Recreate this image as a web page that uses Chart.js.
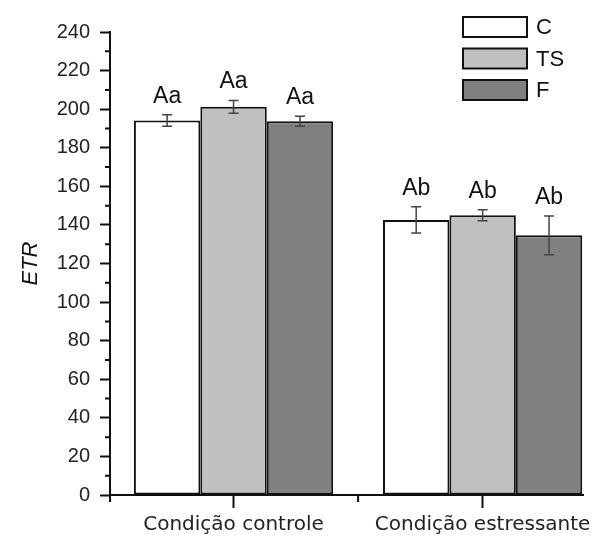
<!DOCTYPE html>
<html>
<head>
<meta charset="utf-8">
<script src="https://cdn.jsdelivr.net/npm/chart.js@4/dist/chart.umd.min.js"></script>
<style>
  html, body { margin: 0; padding: 0; background: #fff; }
  #wrap { width: 599px; height: 536px; }
</style>
</head>
<body>
<div id="wrap"><canvas id="etr-chart" width="599" height="536"></canvas></div>
<script>
// values
const categories = ['Condição controle', 'Condição estressante'];
const seriesNames = ['C', 'TS', 'F'];
const cValues = [194.1, 142.6];
const tsValues = [201.2, 145.0];
const fValues = [193.7, 134.6];
const cErr = [3.0, 6.8];
const tsErr = [3.3, 2.8];
const fErr = [2.6, 10.0];
const cLetters = ['Aa', 'Ab'];
const tsLetters = ['Aa', 'Ab'];
const fLetters = ['Aa', 'Ab'];
const yTicks = [0, 20, 40, 60, 80, 100, 120, 140, 160, 180, 200, 220, 240];

const fills = ['#ffffff', '#c0c0c0', '#808080'];
const allValues = [cValues, tsValues, fValues];
const allErr = [cErr, tsErr, fErr];
const allLetters = [cLetters, tsLetters, fLetters];

const sans = '"Liberation Sans", Arial, sans-serif';
Chart.defaults.font.family = sans;
Chart.defaults.color = '#222';

const datasets = seriesNames.map(function(name, i) {
    return {
        label: name,
        data: allValues[i].map(function(v, j) { return { x: j, y: v }; }),
        err: allErr[i],
        letters: allLetters[i],
        backgroundColor: fills[i],
        borderColor: '#111',
        borderWidth: 2,
        borderSkipped: false,
        categoryPercentage: 0.8,
        barPercentage: 1.0
    };
});

// error bars, letters, extra ticks and the legend
const extras = {
    id: 'extras',
    afterDatasetsDraw(chart) {
        const c = chart.ctx;
        const y = chart.scales.y;
        const x = chart.scales.x;
        c.save();
        chart.data.datasets.forEach(function(ds, i) {
            const meta = chart.getDatasetMeta(i);
            meta.data.forEach(function(bar, j) {
                const v = ds.data[j].y;
                const top = y.getPixelForValue(v + ds.err[j]);
                const bot = y.getPixelForValue(v - ds.err[j]);
                c.strokeStyle = '#444';
                c.lineWidth = 1.5;
                c.beginPath();
                c.moveTo(bar.x, top); c.lineTo(bar.x, bot);
                c.moveTo(bar.x - 5, top); c.lineTo(bar.x + 5, top);
                c.moveTo(bar.x - 5, bot); c.lineTo(bar.x + 5, bot);
                c.stroke();
                c.fillStyle = '#111';
                c.font = '23px ' + sans;
                c.textAlign = 'center';
                c.textBaseline = 'alphabetic';
                c.fillText(ds.letters[j], bar.x, top - 12);
            });
        });

        // minor ticks
        c.strokeStyle = '#111';
        c.lineWidth = 2;
        c.beginPath();
        for (let t = 10; t < 240; t += 20) {
            const py = y.getPixelForValue(t);
            c.moveTo(x.left - 5, py); c.lineTo(x.left, py);
        }
        const mx = x.getPixelForValue(0.5);
        c.moveTo(mx, y.bottom); c.lineTo(mx, y.bottom + 7);
        c.moveTo(x.left, y.bottom); c.lineTo(x.left, y.bottom + 7);
        c.stroke();

        // legend
        chart.data.datasets.forEach(function(ds, i) {
            const bx = 463, by = 17 + i * 31.5;
            c.fillStyle = ds.backgroundColor;
            c.fillRect(bx, by, 64, 20);
            c.strokeStyle = '#111';
            c.lineWidth = 2;
            c.strokeRect(bx, by, 64, 20);
            c.fillStyle = '#111';
            c.font = '22px ' + sans;
            c.textAlign = 'left';
            c.textBaseline = 'middle';
            c.fillText(ds.label, bx + 73, by + 11);
        });
        c.restore();
    }
};

new Chart(document.getElementById('etr-chart').getContext('2d'), {
    type: 'bar',
    data: { datasets: datasets },
    options: {
        responsive: false,
        animation: false,
        layout: { padding: { left: 18, right: 16, top: 32, bottom: 0 } },
        plugins: {
            legend: { display: false },
            tooltip: { enabled: false }
        },
        scales: {
            x: {
                type: 'linear',
                min: -0.496,
                max: 1.403,
                offset: false,
                afterBuildTicks: function(scale) {
                    scale.ticks = categories.map(function(c, i) { return { value: i }; });
                },
                afterFit: function(scale) { scale.height = 41; },
                grid: {
                    display: true,
                    offset: false,
                    drawOnChartArea: false,
                    drawTicks: true,
                    tickLength: 13,
                    tickWidth: 2,
                    color: '#111'
                },
                border: { display: true, color: '#111', width: 2 },
                ticks: {
                    padding: 5,
                    maxRotation: 0,
                    autoSkip: false,
                    font: { family: '"DejaVu Sans", sans-serif', size: 20 },
                    color: '#222',
                    callback: function(v) { return categories[v]; }
                }
            },
            y: {
                min: 0,
                max: 240,
                afterBuildTicks: function(scale) {
                    scale.ticks = yTicks.map(function(v) { return { value: v }; });
                },
                afterFit: function(scale) { scale.width = 92; },
                grid: {
                    display: true,
                    drawOnChartArea: false,
                    drawTicks: true,
                    tickLength: 10,
                    tickWidth: 2,
                    color: '#111'
                },
                border: { display: true, color: '#111', width: 2 },
                ticks: {
                    padding: 10,
                    font: { size: 20 },
                    color: '#222'
                },
                title: {
                    display: true,
                    text: 'ETR',
                    font: { size: 22, style: 'italic' },
                    color: '#111',
                    padding: { top: 0, bottom: 4 }
                }
            }
        }
    },
    plugins: [extras]
});
</script>
</body>
</html>
